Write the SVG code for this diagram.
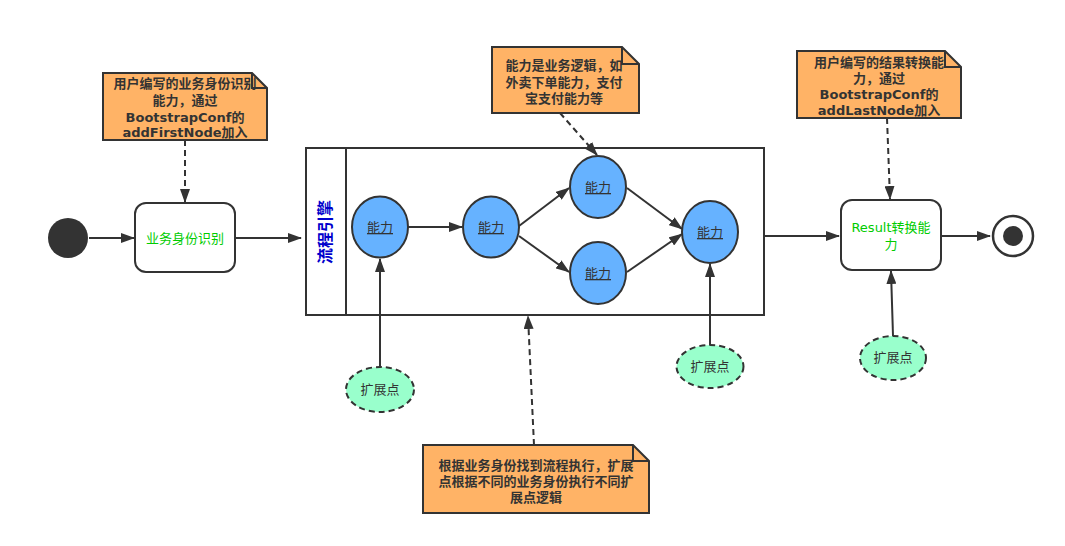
<svg xmlns="http://www.w3.org/2000/svg" width="1065" height="546" viewBox="0 0 1065 546">
  <defs>
    <marker id="arr" markerWidth="14" markerHeight="10" refX="13" refY="5" orient="auto" markerUnits="userSpaceOnUse">
      <path d="M0,0 L14,5 L0,10 Z" fill="#333"/>
    </marker>
    <style>
      text { font-family: "DejaVu Sans", "Noto Sans CJK SC", sans-serif; }
      .line { stroke: #333; stroke-width: 2; fill: none; }
      .dash { stroke: #333; stroke-width: 2; fill: none; stroke-dasharray: 6 4; }
      .note { fill: #ffb366; stroke: #333; stroke-width: 2; }
      .note-t { font-size: 13px; font-weight: bold; fill: #333; text-anchor: middle; }
      .state { fill: #fff; stroke: #333; stroke-width: 2; }
      .state-t { font-size: 13px; fill: #00cc00; text-anchor: middle; }
      .cap { fill: #66b2ff; stroke: #333; stroke-width: 2; }
      .cap-t { font-size: 13px; fill: #333; text-anchor: middle; text-decoration: underline; }
      .ext { fill: #99ffcc; stroke: #333; stroke-width: 2; stroke-dasharray: 6 4; }
      .ext-t { font-size: 13px; fill: #333; text-anchor: middle; }
    </style>
  </defs>

  <rect width="1065" height="546" fill="#fff"/>

  <!-- pool -->
  <g id="pool">
    <rect x="306" y="148" width="458" height="167" fill="#fff" stroke="#333" stroke-width="2"/>
    <line x1="346" y1="148" x2="346" y2="315" stroke="#333" stroke-width="2"/>
    <text transform="translate(331,232) rotate(-90)" font-size="16" font-weight="bold" fill="#0000cc" text-anchor="middle">流程引擎</text>
  </g>

  <!-- connectors -->
  <g id="connectors">
    <line class="line" x1="89" y1="238" x2="134" y2="238" marker-end="url(#arr)"/>
    <line class="line" x1="235" y1="238" x2="301" y2="238" marker-end="url(#arr)"/>
    <line class="line" x1="408" y1="227" x2="462" y2="227" marker-end="url(#arr)"/>
    <line class="line" x1="519" y1="226" x2="569" y2="188" marker-end="url(#arr)"/>
    <line class="line" x1="519" y1="236" x2="569" y2="272" marker-end="url(#arr)"/>
    <line class="line" x1="627" y1="188" x2="682" y2="229" marker-end="url(#arr)"/>
    <line class="line" x1="627" y1="272" x2="682" y2="234" marker-end="url(#arr)"/>
    <line class="line" x1="764" y1="236" x2="839" y2="236" marker-end="url(#arr)"/>
    <line class="line" x1="941" y1="236" x2="990" y2="236" marker-end="url(#arr)"/>
    <line class="line" x1="380" y1="367" x2="380" y2="259" marker-end="url(#arr)"/>
    <line class="line" x1="710" y1="345" x2="710" y2="264" marker-end="url(#arr)"/>
    <line class="line" x1="893" y1="336" x2="891" y2="271" marker-end="url(#arr)"/>
    <line class="dash" x1="185" y1="140" x2="185" y2="202" marker-end="url(#arr)"/>
    <line class="dash" x1="560" y1="113" x2="597" y2="155" marker-end="url(#arr)"/>
    <line class="dash" x1="887" y1="118" x2="890" y2="199" marker-end="url(#arr)"/>
    <line class="dash" x1="534" y1="445" x2="528" y2="316" marker-end="url(#arr)"/>
  </g>

  <!-- start / end -->
  <g id="start">
    <circle cx="68" cy="238" r="20" fill="#333"/>
  </g>
  <g id="end">
    <circle cx="1013" cy="236" r="20" fill="#fff" stroke="#333" stroke-width="2.5"/>
    <circle cx="1013" cy="236" r="10" fill="#333"/>
  </g>

  <!-- states -->
  <g id="identity">
    <rect class="state" x="135" y="203" width="100" height="69" rx="11"/>
    <text class="state-t" x="185" y="243">业务身份识别</text>
  </g>
  <g id="result">
    <rect class="state" x="841" y="200" width="100" height="70" rx="11"/>
    <text class="state-t" x="891" y="232">Result转换能</text>
    <text class="state-t" x="891" y="249">力</text>
  </g>

  <!-- capabilities -->
  <g id="cap1">
    <ellipse class="cap" cx="380" cy="227" rx="28" ry="30.5"/>
    <text class="cap-t" x="380" y="232">能力</text>
  </g>
  <g id="cap2">
    <ellipse class="cap" cx="491" cy="227" rx="28" ry="30.5"/>
    <text class="cap-t" x="491" y="232">能力</text>
  </g>
  <g id="cap3">
    <ellipse class="cap" cx="598" cy="187" rx="28" ry="31"/>
    <text class="cap-t" x="598" y="192">能力</text>
  </g>
  <g id="cap4">
    <ellipse class="cap" cx="598" cy="273" rx="28" ry="31"/>
    <text class="cap-t" x="598" y="278">能力</text>
  </g>
  <g id="cap5">
    <ellipse class="cap" cx="710" cy="232" rx="28" ry="31"/>
    <text class="cap-t" x="710" y="237">能力</text>
  </g>

  <!-- extension points -->
  <g id="ext1">
    <ellipse class="ext" cx="380" cy="389.5" rx="34" ry="22.5"/>
    <text class="ext-t" x="380" y="394">扩展点</text>
  </g>
  <g id="ext2">
    <ellipse class="ext" cx="710" cy="366.5" rx="33.5" ry="21.5"/>
    <text class="ext-t" x="710" y="371">扩展点</text>
  </g>
  <g id="ext3">
    <ellipse class="ext" cx="893" cy="358" rx="33" ry="22"/>
    <text class="ext-t" x="893" y="362">扩展点</text>
  </g>

  <!-- notes -->
  <g id="note-identity">
    <path class="note" d="M103,73 H252 L267,88 V140 H103 Z"/>
    <text class="note-t" x="185" y="88">用户编写的业务身份识别</text>
    <path d="M252,73 V88 H267" fill="none" stroke="#333" stroke-width="2"/>
    <text class="note-t" x="185" y="105">能力，通过</text>
    <text class="note-t" x="185" y="122">BootstrapConf的</text>
    <text class="note-t" x="185" y="137">addFirstNode加入</text>
  </g>
  <g id="note-capability">
    <path class="note" d="M492,47 H622 L639,64 V113 H492 Z"/>
    <path d="M622,47 V64 H639" fill="none" stroke="#333" stroke-width="2"/>
    <text class="note-t" x="564" y="70">能力是业务逻辑，如</text>
    <text class="note-t" x="564" y="87">外卖下单能力，支付</text>
    <text class="note-t" x="564" y="103">宝支付能力等</text>
  </g>
  <g id="note-result">
    <path class="note" d="M797,51 H945 L961,67 V118 H797 Z"/>
    <text class="note-t" x="879" y="67">用户编写的结果转换能</text>
    <path d="M945,51 V67 H961" fill="none" stroke="#333" stroke-width="2"/>
    <text class="note-t" x="879" y="83">力，通过</text>
    <text class="note-t" x="879" y="99">BootstrapConf的</text>
    <text class="note-t" x="879" y="115">addLastNode加入</text>
  </g>
  <g id="note-flow">
    <path class="note" d="M423,445 H633 L649,461 V513 H423 Z"/>
    <path d="M633,445 V461 H649" fill="none" stroke="#333" stroke-width="2"/>
    <text class="note-t" x="536" y="470">根据业务身份找到流程执行，扩展</text>
    <text class="note-t" x="536" y="486">点根据不同的业务身份执行不同扩</text>
    <text class="note-t" x="536" y="502">展点逻辑</text>
  </g>
</svg>
